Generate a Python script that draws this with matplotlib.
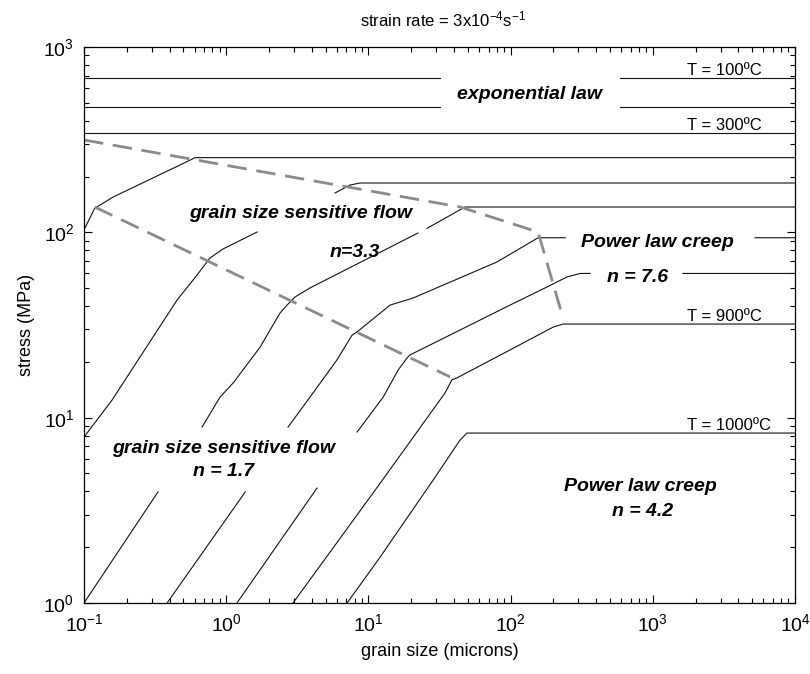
import numpy as np
import matplotlib
matplotlib.use('Agg')
import matplotlib.pyplot as plt

plt.rcParams['font.family'] = ['Liberation Sans', 'DejaVu Sans']
plt.rcParams['mathtext.fontset'] = 'custom'
plt.rcParams['mathtext.rm'] = 'Liberation Sans'
plt.rcParams['mathtext.it'] = 'Liberation Sans:italic'
plt.rcParams['mathtext.bf'] = 'Liberation Sans:bold'

nan = np.nan

# ---- data: grain size (microns) / stress (MPa) along each isotherm (nan = label gap)
temperatures = [100, 200, 300, 400, 500, 600, 700, 800, 900, 1000]

d_T100 = [0.1, 31.9, nan, 587, 1e4]
s_T100 = [681, 681, nan, 681, 681]

d_T200 = [0.1, 31.9, nan, 587, 1e4]
s_T200 = [474, 474, nan, 474, 474]

d_T300 = [0.1, 1e4]
s_T300 = [342, 342]

d_T400 = [0.1, 0.119, 0.141, 0.160, 0.556, 0.604, 1e4]
s_T400 = [103, 135, 146, 155, 245, 253, 253]

d_T500 = [0.1, 0.157, 0.451, 0.585, 0.624, 0.769, 0.949, 1.65, nan, 5.82, 7.43, 8.73, 1e4]
s_T500 = [7.86, 12.4, 43.1, 55.3, 58.9, 72.7, 81.3, 100.4, nan, 163, 180, 184.6, 184.6]

d_T600 = [0.1, 0.331, nan, 0.676, 0.904, 1.12, 1.73, 2.39, 2.68, 3.05, 3.88, 22.3, nan, 25.8, 47.8, 1e4]
s_T600 = [1.0, 3.97, nan, 8.89, 12.9, 15.4, 24.0, 36.7, 40.5, 44.8, 50.1, 99.1, nan, 105, 137, 137]

d_T700 = [0.384, 1.36, nan, 2.72, 4.08, 6.01, 7.68, 8.32, 14.2, 20.6, 80.2, 156, 242, nan, 5230, 1e4]
s_T700 = [1.0, 3.97, nan, 8.89, 13.6, 20.5, 27.9, 29.0, 40.5, 44.2, 69.2, 93.5, 93.5, nan, 93.5, 93.5]

d_T800 = [1.19, 4.35, nan, 8.32, 12.7, 16.2, 18.7, 19.6, 44.1, 99.1, 180, 249, 308, 362, nan, 1630, 1e4]
s_T800 = [1.0, 4.17, nan, 8.36, 12.9, 18.1, 21.0, 21.8, 29.7, 40.5, 50.7, 57.4, 60.0, 60.0, nan, 60.0, 60.0]

d_T900 = [2.95, 12.1, 34.6, 38.7, 42.0, 99.1, 199, 234, 1e4]
s_T900 = [1.0, 4.43, 13.6, 16.0, 16.4, 23.2, 30.8, 32.0, 32.0]

d_T1000 = [7.08, 12.1, 28.5, 44.1, 49.3, 1e4]
s_T1000 = [1.0, 1.77, 4.60, 7.57, 8.26, 8.26]

# field boundaries (dashed)
d_upper_boundary = [0.1, 44.1, 156, 234]
s_upper_boundary = [315, 137, 100.4, 34.4]
d_lower_boundary = [0.119, 37.5]
s_lower_boundary = [137, 16.6]

curves_d = [d_T100, d_T200, d_T300, d_T400, d_T500, d_T600, d_T700, d_T800, d_T900, d_T1000]
curves_s = [s_T100, s_T200, s_T300, s_T400, s_T500, s_T600, s_T700, s_T800, s_T900, s_T1000]

# ---- figure
fig = plt.figure(figsize=(8.10, 6.74), dpi=100)
ax = fig.add_axes([84/810, 1-603/674, 711/810, 556/674])

for d, s in zip(curves_d, curves_s):
    ax.plot(d, s, color='#111111', lw=0.8, solid_joinstyle='round')

dash_kw = dict(color='#8a8a8a', lw=2.0, dashes=(7, 3.5), solid_capstyle='butt')
ax.plot(d_upper_boundary, s_upper_boundary, **dash_kw)
ax.plot(d_lower_boundary, s_lower_boundary, **dash_kw)

ax.set_xscale('log')
ax.set_yscale('log')
ax.set_xlim(0.1, 1e4)
ax.set_ylim(1, 1000)

ax.tick_params(which='both', direction='in', top=True, right=True, labelsize=14, width=0.8)
ax.tick_params(which='major', length=6, pad=7)
ax.tick_params(which='minor', length=3.5)
for sp in ax.spines.values():
    sp.set_linewidth(0.9)

ax.set_xlabel('grain size (microns)', fontsize=13, labelpad=6)
ax.set_ylabel('stress (MPa)', fontsize=13, labelpad=6)
ax.set_title(r'strain rate = 3x10$^{\mathdefault{-4}}$s$^{\mathdefault{-1}}$',
             fontsize=12, pad=15, x=0.505)

# temperature labels
tl_kw = dict(transform=ax.transAxes, ha='left', va='baseline', fontsize=12)
ax.text(0.848, 0.950, 'T = 100ºC', **tl_kw)
ax.text(0.848, 0.851, 'T = 300ºC', **tl_kw)
ax.text(0.848, 0.507, 'T = 900ºC', **tl_kw)
ax.text(0.848, 0.311, 'T = 1000ºC', **tl_kw)

# field labels
fl_kw = dict(transform=ax.transAxes, ha='center', va='center', fontsize=14,
             fontweight='bold', fontstyle='italic')
ax.text(0.627, 0.914, 'exponential law', **fl_kw)
ax.text(0.304, 0.700, 'grain size sensitive flow', **fl_kw)
ax.text(0.381, 0.631, 'n=3.3', **fl_kw)
ax.text(0.806, 0.649, 'Power law creep', **fl_kw)
ax.text(0.779, 0.585, 'n = 7.6', **fl_kw)
ax.text(0.196, 0.277, 'grain size sensitive flow', **fl_kw)
ax.text(0.196, 0.237, 'n = 1.7', **fl_kw)
ax.text(0.783, 0.209, 'Power law creep', **fl_kw)
ax.text(0.786, 0.165, 'n = 4.2', **fl_kw)

fig.savefig('out.png', dpi=100)
